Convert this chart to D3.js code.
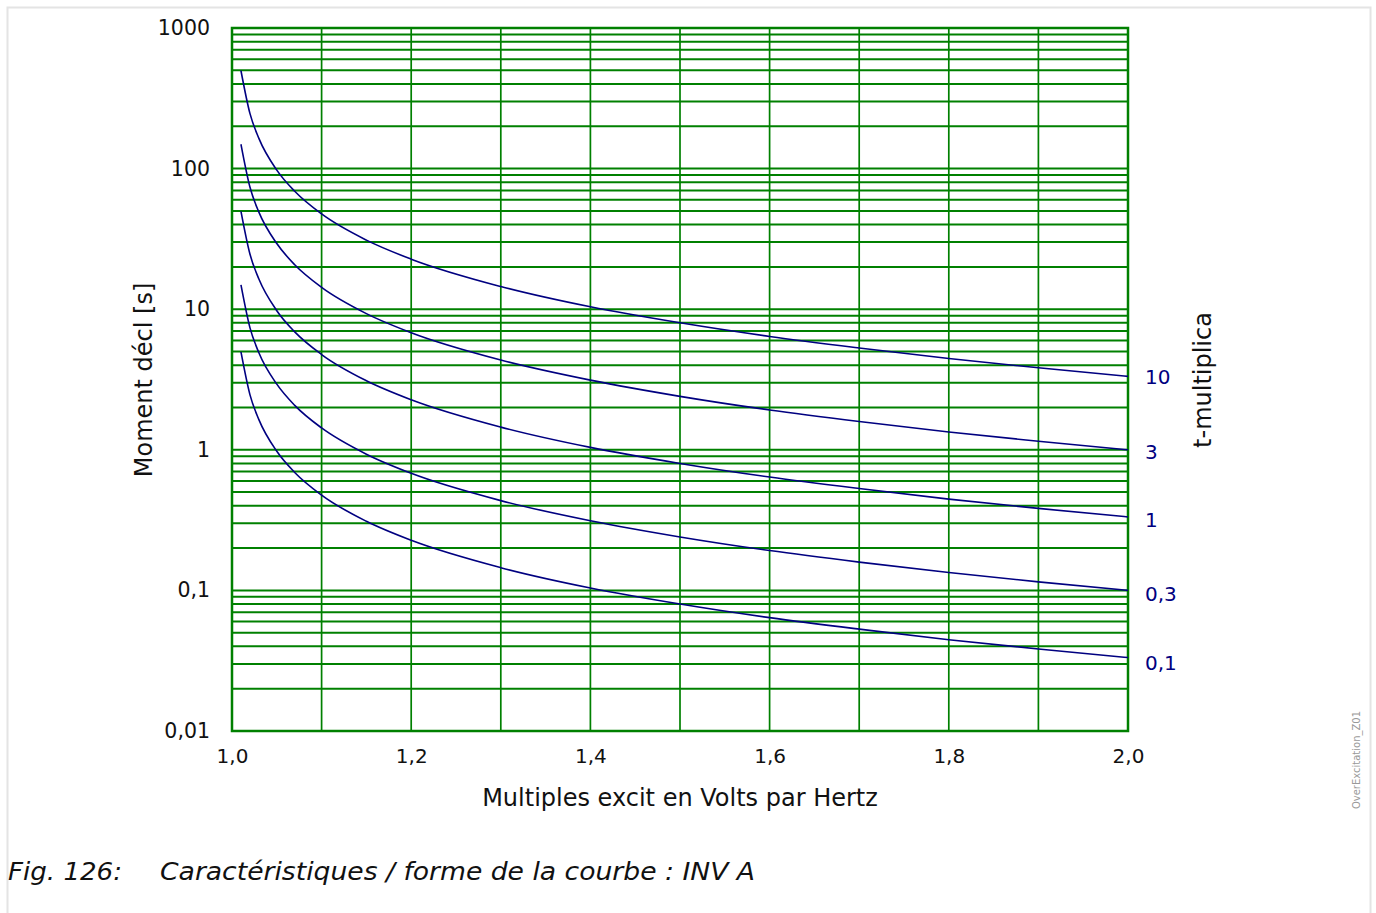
<!DOCTYPE html>
<html lang="fr">
<head>
<meta charset="utf-8">
<style>
    body { margin: 0; background: #fff; }
    svg text { font-family: "DejaVu Sans", sans-serif; }
    .title { font-size: 24px; fill: #111; }
    .tm { font-size: 20px; fill: #000080; }
</style>
<script src="https://d3js.org/d3.v7.min.js"></script>
</head>
<body>
<svg width="1376" height="913"></svg>
<script>
// multiples of V/Hz (x)
var xs = [1.01, 1.02, 1.03, 1.05, 1.07, 1.1, 1.15, 1.2, 1.3, 1.4, 1.5, 1.6, 1.7, 1.8, 1.9, 2.0];

// trip time [s] per t-multiplier
var tm10  = [497, 247, 164, 97.6, 69, 47.6, 31, 22.7, 14.5, 10.4, 8.0, 6.4, 5.3, 4.46, 3.83, 3.33];
var tm3   = [149, 74, 49, 29.3, 20.7, 14.3, 9.3, 6.8, 4.35, 3.13, 2.4, 1.92, 1.59, 1.34, 1.15, 1.0];
var tm1   = [49.7, 24.7, 16.4, 9.76, 6.9, 4.76, 3.1, 2.27, 1.45, 1.04, 0.8, 0.64, 0.53, 0.446, 0.383, 0.333];
var tm03  = [14.9, 7.4, 4.9, 2.93, 2.07, 1.43, 0.93, 0.68, 0.435, 0.313, 0.24, 0.192, 0.159, 0.134, 0.115, 0.1];
var tm01  = [4.97, 2.47, 1.64, 0.976, 0.69, 0.476, 0.31, 0.227, 0.145, 0.104, 0.08, 0.064, 0.053, 0.0446, 0.0383, 0.0333];

var seriesLabels = ["10", "3", "1", "0,3", "0,1"];
var seriesValues = [tm10, tm3, tm1, tm03, tm01];

var xTicks = [1.0, 1.1, 1.2, 1.3, 1.4, 1.5, 1.6, 1.7, 1.8, 1.9, 2.0];
var xTickLabels = ["1,0", "", "1,2", "", "1,4", "", "1,6", "", "1,8", "", "2,0"];
var yTicks = [0.01, 0.1, 1, 10, 100, 1000];
var yTickLabels = ["0,01", "0,1", "1", "10", "100", "1000"];

var svg = d3.select("svg");
var pLeft = 232, pRight = 1128, pTop = 28, pBottom = 731;

// figure frame
svg.append("rect")
    .attr("x", 7.5).attr("y", 7.5)
    .attr("width", 1363).attr("height", 920)
    .attr("fill", "none")
    .attr("stroke", "#e4e4e4")
    .attr("stroke-width", 2);

var x = d3.scaleLinear().domain([1, 2]).range([pLeft, pRight]);
var y = d3.scaleLog().domain([0.01, 1000]).range([pBottom, pTop]);

var green = "#008000";
var grid = svg.append("g");

// horizontal grid: 2..9 of every decade, plus the decades
var hLines = [];
yTicks.slice(0, -1).forEach(function(d) {
    for (var k = 2; k <= 9; k++) hLines.push(d * k);
});
hLines = hLines.concat(yTicks);

grid.selectAll(".h").data(hLines).enter().append("line")
    .attr("x1", pLeft).attr("x2", pRight)
    .attr("y1", function(v) { return y(v); })
    .attr("y2", function(v) { return y(v); })
    .attr("stroke", green).attr("stroke-width", 2);

grid.selectAll(".v").data(xTicks).enter().append("line")
    .attr("x1", function(v) { return x(v); })
    .attr("x2", function(v) { return x(v); })
    .attr("y1", pTop).attr("y2", pBottom)
    .attr("stroke", green).attr("stroke-width", 1.7);

svg.append("rect")
    .attr("x", pLeft).attr("y", pTop)
    .attr("width", pRight - pLeft).attr("height", pBottom - pTop)
    .attr("fill", "none").attr("stroke", green).attr("stroke-width", 2.5);

// axes (labels only)
var xAxis = svg.append("g")
    .attr("transform", "translate(0," + pBottom + ")")
    .call(d3.axisBottom(x).tickValues(xTicks)
        .tickFormat(function(d, i) { return xTickLabels[i]; })
        .tickSize(0).tickPadding(18));
xAxis.select(".domain").remove();
xAxis.selectAll("text").attr("font-size", 20).attr("fill", "#111").attr("font-family", "DejaVu Sans");

var yAxis = svg.append("g")
    .attr("transform", "translate(" + pLeft + ",0)")
    .call(d3.axisLeft(y).tickValues(yTicks)
        .tickFormat(function(d, i) { return yTickLabels[i]; })
        .tickSize(0).tickPadding(22));
yAxis.select(".domain").remove();
yAxis.selectAll("text").attr("font-size", 20.5).attr("fill", "#111").attr("font-family", "DejaVu Sans");

// curves
var line = d3.line()
    .x(function(d) { return x(d[0]); })
    .y(function(d) { return y(d[1]); })
    .curve(d3.curveMonotoneX);

seriesValues.forEach(function(vals, i) {
    var pts = xs.map(function(v, j) { return [v, vals[j]]; });
    svg.append("path")
        .attr("d", line(pts))
        .attr("fill", "none")
        .attr("stroke", "#000080")
        .attr("stroke-width", 1.6);
    svg.append("text")
        .attr("class", "tm")
        .attr("x", pRight + 17)
        .attr("y", y(vals[vals.length - 1]) + 8 + i)
        .text(seriesLabels[i]);
});

// titles
svg.append("text")
    .attr("class", "title")
    .attr("x", (pLeft + pRight) / 2).attr("y", 806)
    .attr("text-anchor", "middle")
    .text("Multiples excit en Volts par Hertz");

svg.append("text")
    .attr("class", "title")
    .attr("transform", "translate(152,380) rotate(-90)")
    .attr("text-anchor", "middle")
    .text("Moment décl [s]");

svg.append("text")
    .attr("class", "title")
    .attr("transform", "translate(1211,380) rotate(-90)")
    .attr("text-anchor", "middle")
    .text("t-multiplica");

svg.append("text")
    .attr("transform", "translate(1360,760) rotate(-90)")
    .attr("text-anchor", "middle")
    .attr("font-size", 10)
    .attr("fill", "#999")
    .text("OverExcitation_Z01");

// caption
var cap = svg.append("g")
    .attr("font-size", 25)
    .attr("font-style", "italic")
    .attr("fill", "#111");
cap.append("text").attr("x", 8).attr("y", 880)
    .attr("textLength", 114).attr("lengthAdjust", "spacingAndGlyphs")
    .text("Fig. 126:");
cap.append("text").attr("x", 160).attr("y", 880)
    .attr("textLength", 595).attr("lengthAdjust", "spacingAndGlyphs")
    .text("Caractéristiques / forme de la courbe : INV A");
</script>
</body>
</html>
